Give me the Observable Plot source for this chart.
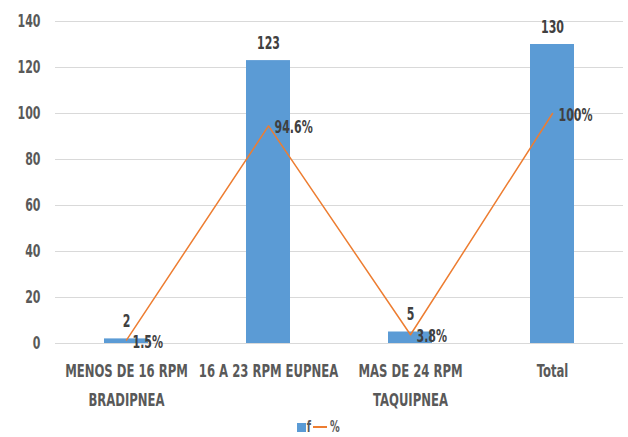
<!DOCTYPE html>
<html>
<head>
<meta charset="utf-8">
<script src="https://cdn.jsdelivr.net/npm/d3@7"></script>
<script src="https://cdn.jsdelivr.net/npm/@observablehq/plot@0.6"></script>
<style>
  html, body { margin: 0; padding: 0; background: #fff; }
  body { width: 628px; height: 437px; overflow: hidden; font-family: "DejaVu Sans Condensed", "DejaVu Sans", sans-serif; }
  #chart svg { display: block; }
  #legend { box-sizing: border-box; height: 22px; padding-top: 2px; display: flex; justify-content: center; align-items: center; font-size: 15px; line-height: 15px; color: #595959; font-weight: bold; padding-left: 10px; }
  .sw { display: inline-block; width: 9px; height: 9px; background: #5B9BD5; margin-right: 0px; }
  .ln { display: inline-block; width: 14px; height: 2px; background: #ED7D31; margin: 0 1px 0 1px; }
  .t { display: inline-block; transform: scaleX(0.72); }
</style>
</head>
<body>
<div id="chart"></div>
<div id="legend"><span class="sw"></span><span class="t">f</span><span class="ln"></span><span class="t">%</span></div>
<script>
const categories = ["MENOS DE 16 RPM\nBRADIPNEA", "16 A 23 RPM EUPNEA", "MAS DE 24 RPM\nTAQUIPNEA", "Total"];
const fValues = [2, 123, 5, 130];
const pctValues = [1.5, 94.6, 3.8, 100];
const pctLabels = ["1.5%", "94.6%", "3.8%", "100%"];
const yTicks = [0, 20, 40, 60, 80, 100, 120, 140];

const rows = categories.map((c, i) => ({cat: c, f: fValues[i], pct: pctValues[i], pctLabel: pctLabels[i]}));

const font = '"DejaVu Sans Condensed", "DejaVu Sans", sans-serif';

const chart = Plot.plot({
  width: 628,
  height: 415,
  marginTop: 21,
  marginBottom: 72,
  marginLeft: 55,
  marginRight: 5,
  style: {fontFamily: font, fontSize: "17px", color: "#595959", fontWeight: "bold", background: "#fff"},
  x: {domain: categories, paddingInner: 0.69, paddingOuter: 0.345, label: null},
  y: {domain: [0, 140], ticks: yTicks, label: null},
  marks: [
    Plot.gridY(yTicks, {stroke: "#d9d9d9", strokeOpacity: 1, strokeWidth: 1}),
    Plot.axisY(yTicks, {tickSize: 0, tickPadding: 15, fontSize: 17, label: null}),
    Plot.axisX({tickSize: 0, tickPadding: 14, fontSize: 18, label: null, lineHeight: 1.56}),
    Plot.barY(rows, {x: "cat", y: "f", fill: "#5B9BD5"}),
    Plot.line(rows, {x: "cat", y: "pct", stroke: "#ED7D31", strokeWidth: 1.5}),
    Plot.text(rows, {x: "cat", y: "f", text: d => String(d.f), dy: -17, fontSize: 17, fill: "#404040"}),
    Plot.text(rows, {x: "cat", y: "pct", text: "pctLabel", textAnchor: "start", dx: 6, dy: 2, fontSize: 17, fill: "#404040"})
  ]
});
document.getElementById("chart").appendChild(chart);
// condense text horizontally around each text's anchor to mimic a narrow font
d3.select(chart).selectAll("text").each(function() {
  const el = this;
  const b = el.getBBox();
  const anchor = getComputedStyle(el).textAnchor;
  const ax = anchor === "middle" ? b.x + b.width / 2 : anchor === "end" ? b.x + b.width : b.x;
  const t = el.getAttribute("transform") || "";
  el.setAttribute("transform", `${t} translate(${ax},0) scale(0.72,1) translate(${-ax},0)`);
});
</script>
</body>
</html>
